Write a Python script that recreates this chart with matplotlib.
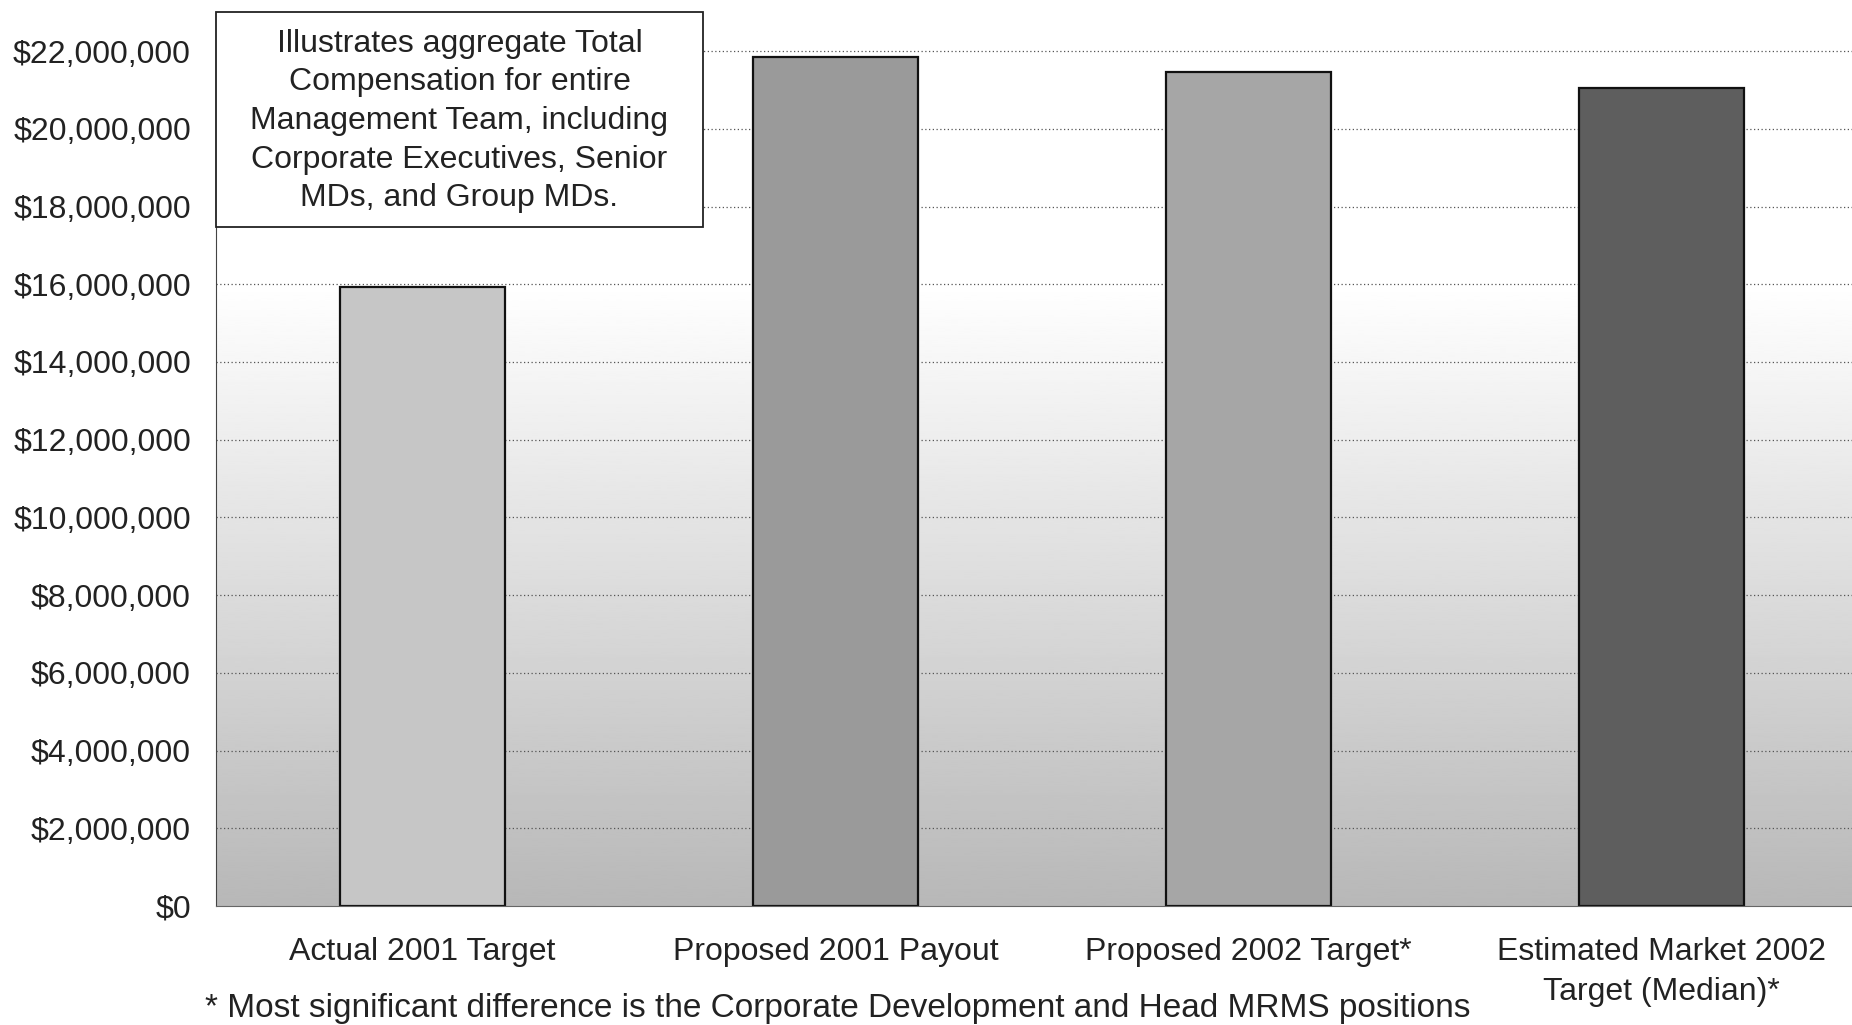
import numpy as np
import matplotlib
matplotlib.use("Agg")
import matplotlib.pyplot as plt
import matplotlib.ticker as ticker
from matplotlib.patches import Rectangle

plt.rcParams.update({'font.family': ['Liberation Sans', 'DejaVu Sans']})
plt.rcParams.update({'font.size': 23})

categories = ['Actual 2001 Target', 'Proposed 2001 Payout', 'Proposed 2002 Target*',
              'Estimated Market 2002\nTarget (Median)*']
values = [15920000, 21840000, 21450000, 21050000]
bar_colors = ['#c6c6c6', '#9a9a9a', '#a6a6a6', '#5e5e5e']
yticks = list(range(0, 22000001, 2000000))

note = ("Illustrates aggregate Total\nCompensation for entire\nManagement Team, including\n"
        "Corporate Executives, Senior\nMDs, and Group MDs.")
footnote = "* Most significant difference is the Corporate Development and Head MRMS positions"


def plot_comp():
  fig = plt.figure(figsize=(18.52, 10.25), dpi=100)
  ax = fig.add_axes([0.1166, 0.1161, 0.892, 0.872])
  ymax = 23000000
  x = np.arange(len(categories))

  # background gradient: white at top, grey toward the bottom
  yy = np.linspace(ymax, 0, 400)
  shade = np.clip(1.0 - 0.28 * (16000000 - yy) / 16000000, 0.72, 1.0)
  ax.imshow(shade[:, None], cmap='gray', vmin=0, vmax=1, aspect='auto',
            extent=(-0.5, 3.5, 0, ymax), zorder=0, interpolation='bilinear')

  for t in yticks[1:]:
    ax.axhline(t, color='#555555', linestyle=(0, (1, 2)), linewidth=0.9, zorder=1)

  ax.bar(x, values, width=0.4, color=bar_colors, edgecolor='#111111', linewidth=1.6, zorder=2)

  ax.set_xlim(-0.5, 3.5)
  ax.set_ylim(0, ymax)
  ax.set_yticks(yticks)
  ax.yaxis.set_major_formatter(ticker.FuncFormatter(lambda v, p: '${:,.0f}'.format(v)))
  ax.set_xticks(x)
  ax.set_xticklabels(categories, linespacing=1.45)
  ax.tick_params(axis='y', length=0, pad=18, colors='#222222')
  ax.tick_params(axis='x', length=0, pad=22, colors='#222222')
  for s in ['top', 'right']:
    ax.spines[s].set_visible(False)
  ax.spines['left'].set_linestyle((0, (1, 1)))
  ax.spines['left'].set_color('#444444')
  ax.spines['bottom'].set_linestyle((0, (1, 1)))
  ax.spines['bottom'].set_color('#666666')

  # note box in the top-left
  fig.patches.append(Rectangle((216 / 1852, 1 - 227 / 1025), 487 / 1852, 215 / 1025,
                               transform=fig.transFigure, facecolor='white',
                               edgecolor='#222222', linewidth=1.3, zorder=5))
  fig.text(459.5 / 1852, 1 - 121 / 1025, note, ha='center', va='center',
           linespacing=1.38, color='#222222', zorder=6)

  fig.text(838 / 1852, 1 - 1008 / 1025, footnote, ha='center', va='center',
           color='#222222', fontsize=24)

  plt.savefig("out.png", dpi=100)


if __name__ == '__main__':
  plot_comp()
